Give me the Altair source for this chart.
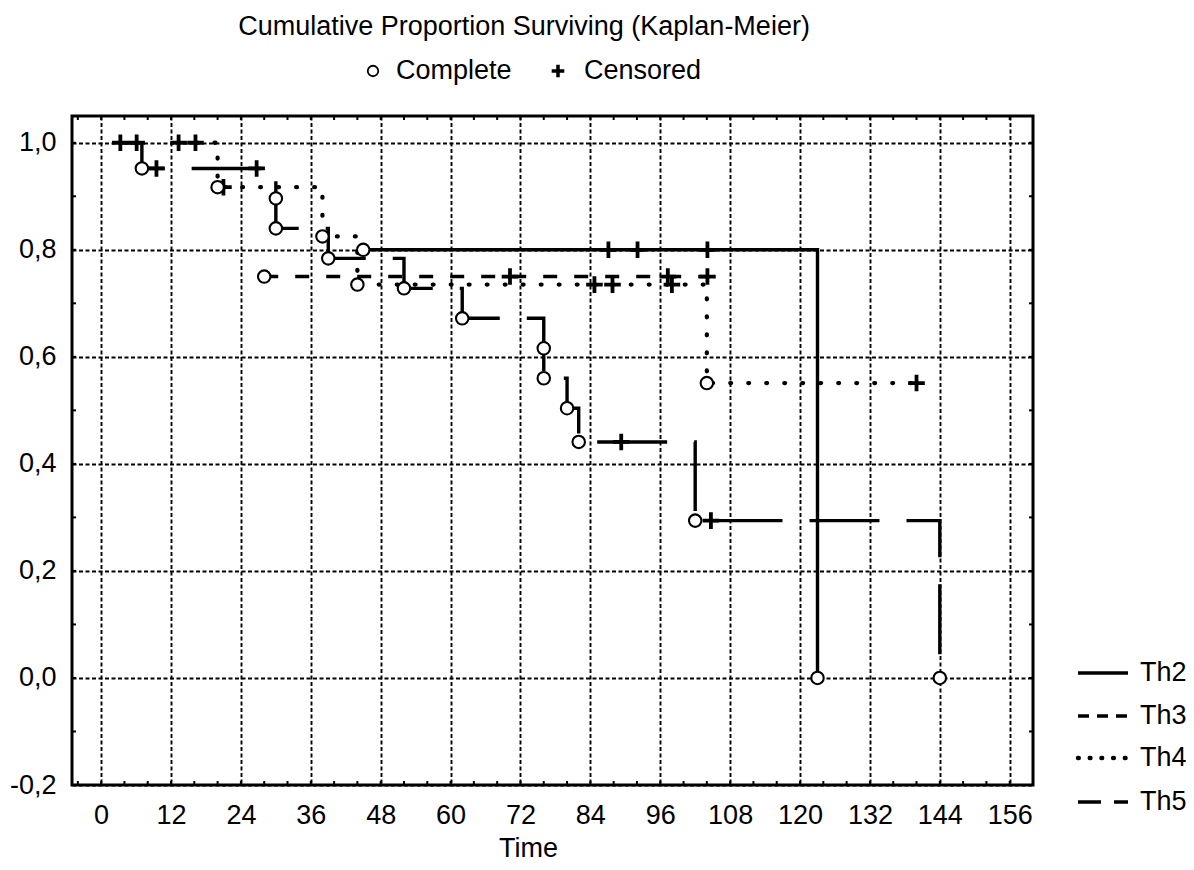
import altair as alt
import pandas as pd

# ---------------- data ----------------
GROUPS = ["Th2", "Th3", "Th4", "Th5"]

th2_time = [45, 87.1, 92.1, 104.1, 123]
th2_surv = [0.80, 0.80, 0.80, 0.80, 0.0]
th2_status = ["Complete", "Censored", "Censored", "Censored", "Complete"]

th3_time = [28, 70.2, 97.3, 104.1]
th3_surv = [0.75, 0.75, 0.75, 0.75]
th3_status = ["Complete", "Censored", "Censored", "Censored"]

th4_time = [13.3, 16.2, 20, 21, 38, 44, 84.7, 87.8, 98, 104, 140]
th4_surv = [1.0, 1.0, 0.917, 0.917, 0.825, 0.735, 0.735, 0.735, 0.735, 0.551, 0.551]
th4_status = ["Censored", "Censored", "Complete", "Censored", "Complete", "Complete",
              "Censored", "Censored", "Censored", "Complete", "Censored"]

th5_time = [3.3, 6.1, 7, 9.5, 26.7, 30, 30, 39, 52, 62, 76, 76, 80, 82, 89.3, 102, 104.7, 144]
th5_surv = [1.0, 1.0, 0.952, 0.952, 0.952, 0.896, 0.840, 0.784, 0.728, 0.672, 0.616,
            0.560, 0.504, 0.441, 0.441, 0.294, 0.294, 0.0]
th5_status = ["Censored", "Censored", "Complete", "Censored", "Censored", "Complete",
              "Complete", "Complete", "Complete", "Complete", "Complete", "Complete",
              "Complete", "Complete", "Censored", "Complete", "Censored", "Complete"]

X_TICKS = [0, 12, 24, 36, 48, 60, 72, 84, 96, 108, 120, 132, 144, 156]
Y_TICKS = [-0.2, 0.0, 0.2, 0.4, 0.6, 0.8, 1.0]
X_MINOR = [-4, 0, 4, 8, 12, 16, 20, 24, 28, 32, 36, 40, 44, 48, 52, 56, 60, 64, 68, 72,
           76, 80, 84, 88, 92, 96, 100, 104, 108, 112, 116, 120, 124, 128, 132, 136,
           140, 144, 148, 152, 156]
Y_MINOR = [-0.1, 0.0, 0.1, 0.2, 0.3, 0.4, 0.5, 0.6, 0.7, 0.8, 0.9, 1.0]

TITLE = "Cumulative Proportion Surviving (Kaplan-Meier)"
X_TITLE = "Time"

# ---------------- layout / style ----------------
W, H = 961, 669
FONT = "Liberation Sans"
FS = 27
LW = 3.4

rows = []
series = {
    "Th2": (th2_time, th2_surv, th2_status),
    "Th3": (th3_time, th3_surv, th3_status),
    "Th4": (th4_time, th4_surv, th4_status),
    "Th5": (th5_time, th5_surv, th5_status),
}
for g in GROUPS:
    ts, ss, st = series[g]
    for i, (t, s, k) in enumerate(zip(ts, ss, st)):
        rows.append({"group": g, "t": t, "s": s, "status": k, "idx": i})
df = pd.DataFrame(rows)

x_scale = alt.Scale(domain=[-5, 160], nice=False, zero=False)
y_scale = alt.Scale(domain=[-0.2, 1.05], nice=False, zero=False)

grid_kw = dict(grid=True, gridColor="black", gridDash=[4, 2.5], gridWidth=1.9, gridOpacity=1,
               domain=False, ticks=False, tickSize=0, labelFont=FONT, labelFontSize=FS,
               labelColor="black", labelOverlap=False, labelFlush=False)

x_axis = alt.Axis(values=X_TICKS, title=X_TITLE, labelPadding=38, labelBaseline="alphabetic",
                  titleFont=FONT, titleFontSize=FS, titleFontWeight="normal", titleColor="black",
                  titleX=456, titleY=71, titleBaseline="alphabetic", titleAlign="center",
                  **grid_kw)
y_axis = alt.Axis(values=Y_TICKS, title="", labelAlign="right", labelBaseline="middle",
                  labelPadding=16,
                  labelExpr="replace(replace(format(datum.value, '.1f'), '.', ','), '\u2212', '-')",
                  **grid_kw)


def X(field="t"):
    return alt.X(f"{field}:Q", scale=x_scale, axis=x_axis)


def Y(field="s"):
    return alt.Y(f"{field}:Q", scale=y_scale, axis=y_axis)


line_styles = {
    "Th2": dict(strokeWidth=LW),
    "Th3": dict(strokeWidth=LW, strokeDash=[14, 17]),
    "Th4": dict(strokeWidth=4.3, strokeDash=[0.8, 17.2], strokeCap="round"),
    "Th5": dict(strokeWidth=LW, strokeDash=[70, 27]),
}
legend_styles = {
    "Th2": dict(strokeWidth=3.6),
    "Th3": dict(strokeWidth=3.6, strokeDash=[11, 8]),
    "Th4": dict(strokeWidth=4.4, strokeDash=[0.8, 10.9], strokeCap="round"),
    "Th5": dict(strokeWidth=3.6, strokeDash=[23, 13]),
}
LEG_Y = {"Th2": 557, "Th3": 600, "Th4": 642, "Th5": 686}

PLUS = "M-1,0L1,0M0,-1L0,1"

layers = []
for g in GROUPS:
    sub = df[df.group == g]
    layers.append(
        alt.Chart(sub).mark_line(interpolate="step-after", color="black",
                                 **line_styles[g]).encode(x=X(), y=Y(), order="idx:Q")
    )

cens = df[df.status == "Censored"]
comp = df[df.status == "Complete"]
layers.append(
    alt.Chart(cens).mark_point(shape=PLUS, filled=False, stroke="black", strokeWidth=3.8,
                               size=275, opacity=1).encode(x=X(), y=Y())
)
layers.append(
    alt.Chart(comp).mark_point(shape="circle", filled=True, fill="white", stroke="black",
                               strokeWidth=2.1, size=155, opacity=1, fillOpacity=1).encode(x=X(), y=Y())
)

# inward minor ticks on all four sides
xm = pd.DataFrame({"t": X_MINOR})
ym = pd.DataFrame({"s": Y_MINOR})
for y0, y1 in [(H - 4, H), (0, 4)]:
    layers.append(
        alt.Chart(xm).mark_rule(color="black", strokeWidth=2).encode(
            x=X(), y=alt.value(y0), y2=alt.value(y1))
    )
for x0, x1 in [(0, 4), (W - 4, W)]:
    layers.append(
        alt.Chart(ym).mark_rule(color="black", strokeWidth=2).encode(
            y=Y(), x=alt.value(x0), x2=alt.value(x1))
    )

# right legend (line styles)
for g in GROUPS:
    ldf = pd.DataFrame({"label": [g]})
    layers.append(
        alt.Chart(ldf).mark_rule(color="black", **legend_styles[g]).encode(
            x=alt.value(1006), x2=alt.value(1056), y=alt.value(LEG_Y[g]))
    )
    layers.append(
        alt.Chart(ldf).mark_text(align="left", baseline="middle", font=FONT, fontSize=FS,
                                 color="black").encode(
            text="label:N", x=alt.value(1068), y=alt.value(LEG_Y[g]))
    )

# title and marker legend on top
layers.append(
    alt.Chart(pd.DataFrame({"text": [TITLE]})).mark_text(
        align="center", baseline="alphabetic", font=FONT, fontSize=FS, color="black").encode(
        text="text:N", x=alt.value(452), y=alt.value(-81))
)
layers.append(
    alt.Chart(pd.DataFrame({"label": ["Complete"]})).mark_point(
        shape="circle", filled=True, fill="white", stroke="black", strokeWidth=1.8, size=110,
        opacity=1).encode(x=alt.value(301), y=alt.value(-45))
)
layers.append(
    alt.Chart(pd.DataFrame({"label": ["Complete"]})).mark_text(
        align="left", baseline="middle", font=FONT, fontSize=FS, color="black").encode(
        text="label:N", x=alt.value(324), y=alt.value(-45))
)
layers.append(
    alt.Chart(pd.DataFrame({"label": ["Censored"]})).mark_point(
        shape=PLUS, filled=False, stroke="black", strokeWidth=3.5, size=160, opacity=1).encode(
        x=alt.value(486), y=alt.value(-45))
)
layers.append(
    alt.Chart(pd.DataFrame({"label": ["Censored"]})).mark_text(
        align="left", baseline="middle", font=FONT, fontSize=FS, color="black").encode(
        text="label:N", x=alt.value(512), y=alt.value(-45))
)

chart = alt.layer(*layers).properties(
    width=W, height=H,
    autosize=alt.AutoSizeParams(type="none"),
    padding={"left": 64, "top": 108, "right": 153, "bottom": 77},
).configure_view(stroke="black", strokeWidth=3)

chart.save("out.html", embed_options={"renderer": "svg", "actions": False})
